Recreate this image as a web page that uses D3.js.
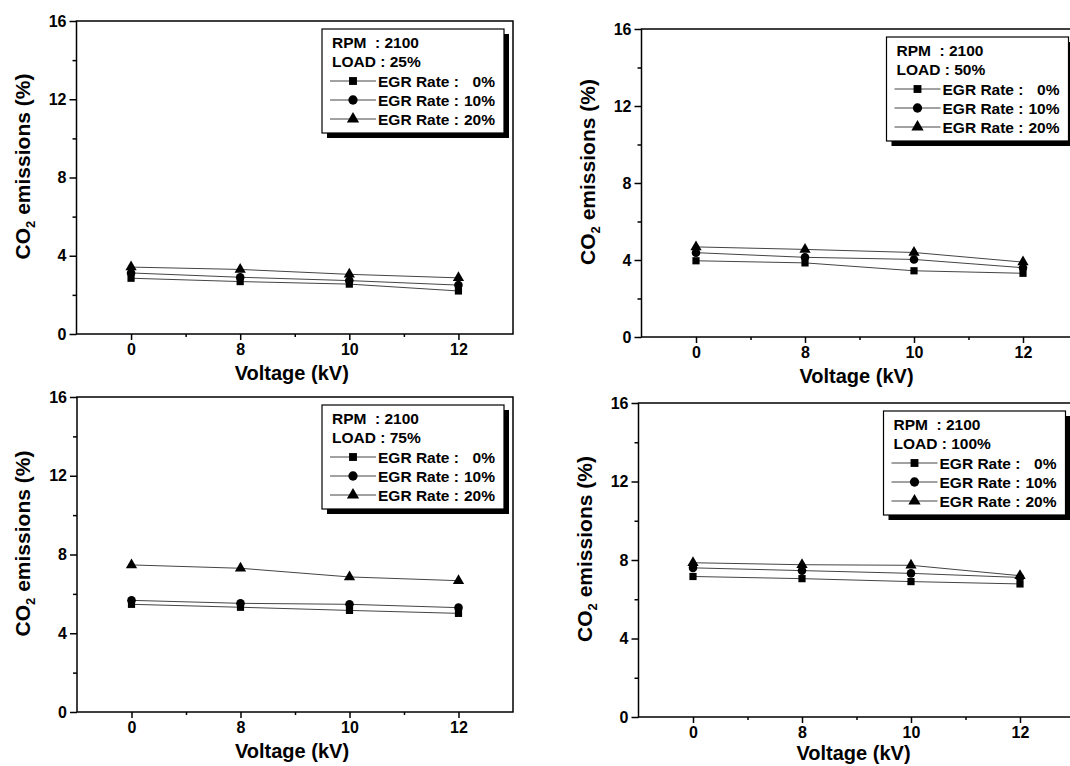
<!DOCTYPE html>
<html lang="en">
<head>
    <meta charset="UTF-8">
    <title>CO2 emissions vs voltage</title>
    <style>
        body {
          margin: 0;
          background: #fff;
        }
        svg text {
          font-family: "Liberation Sans", Arial, Helvetica, sans-serif;
          font-weight: bold;
          fill: #000;
        }
        .axis path, .axis line {
          stroke: #000;
          stroke-width: 1.5px;
        }
        .series {
          fill: none;
          stroke: #444;
          stroke-width: 1px;
        }
    </style>
</head>
<body>
    <script src="https://d3js.org/d3.v7.min.js"></script>
    <script>
        // data
        var voltages = ["0", "8", "10", "12"];
        var rpm = "2100";
        var loads = ["25%", "50%", "75%", "100%"];
        var egrRates = ["0%", "10%", "20%"];
        var yTicks = [0, 4, 8, 12, 16];

        // rows: EGR 0%, 10%, 20% ; columns: voltages
        var co2Load25 = [[2.85, 2.68, 2.55, 2.20], [3.12, 2.90, 2.73, 2.50], [3.42, 3.30, 3.05, 2.87]];
        var co2Load50 = [[3.96, 3.85, 3.44, 3.31], [4.38, 4.14, 4.03, 3.60], [4.68, 4.55, 4.39, 3.89]];
        var co2Load75 = [[5.47, 5.32, 5.16, 5.01], [5.67, 5.52, 5.47, 5.30], [7.47, 7.30, 6.86, 6.67]];
        var co2Load100 = [[7.16, 7.05, 6.90, 6.78], [7.60, 7.46, 7.32, 7.11], [7.86, 7.76, 7.73, 7.20]];

        var width = 1070,
            height = 766;

        // panel boxes on the page
        var panels = [
          {left: 76.5, right: 513, top: 21, bottom: 334, data: co2Load25, load: loads[0]},
          {left: 641.5, right: 1077.5, top: 29, bottom: 337, data: co2Load50, load: loads[1]},
          {left: 77, right: 513, top: 397, bottom: 712, data: co2Load75, load: loads[2]},
          {left: 638.5, right: 1074.5, top: 403, bottom: 717, data: co2Load100, load: loads[3]}
        ];

        var svg = d3.select("body").append("svg")
            .attr("width", width)
            .attr("height", height);

        svg.append("rect").attr("width", width).attr("height", height).attr("fill", "#fff");

        var symbols = [d3.symbolSquare, d3.symbolCircle, d3.symbolTriangle];
        var symbolSizes = [52, 58, 55];

        function styleTicks(a) {
          a.select(".domain").remove();
          a.selectAll("text").style("font-size", "16px").style("font-weight", "bold");
        }

        panels.forEach(function(p) {
          var x = d3.scaleLinear().domain([-0.5, 3.5]).range([p.left, p.right]);
          var y = d3.scaleLinear().domain([0, 16]).range([p.bottom, p.top]);
          var g = svg.append("g");

          // frame
          g.append("rect")
              .attr("x", p.left).attr("y", p.top)
              .attr("width", p.right - p.left).attr("height", p.bottom - p.top)
              .attr("fill", "none").attr("stroke", "#000").attr("stroke-width", 1.5);

          // x axis
          g.append("g").attr("class", "axis")
              .attr("transform", "translate(0," + p.bottom + ")")
              .call(d3.axisBottom(x).tickValues([0, 1, 2, 3]).tickSize(6).tickPadding(4)
                .tickFormat(function(d) { return voltages[d]; }))
              .call(styleTicks);
          g.append("g").attr("class", "axis")
              .attr("transform", "translate(0," + p.bottom + ")")
              .call(d3.axisBottom(x).tickValues([0.5, 1.5, 2.5]).tickSize(3).tickFormat(""))
              .call(styleTicks);

          // y axis
          g.append("g").attr("class", "axis")
              .attr("transform", "translate(" + p.left + ",0)")
              .call(d3.axisLeft(y).tickValues(yTicks).tickSize(7).tickPadding(3))
              .call(styleTicks);
          g.append("g").attr("class", "axis")
              .attr("transform", "translate(" + p.left + ",0)")
              .call(d3.axisLeft(y).tickValues([2, 6, 10, 14]).tickSize(4).tickFormat(""))
              .call(styleTicks);

          // axis titles
          g.append("text")
              .attr("x", (p.left + p.right) / 2 - 3)
              .attr("y", Math.min(p.bottom + 46, height - 6))
              .attr("text-anchor", "middle")
              .style("font-size", "20px")
              .text("Voltage (kV)");

          var yt = g.append("text")
              .attr("transform", "translate(" + (p.left - 47) + "," + ((p.top + p.bottom) / 2 - 11) + ")rotate(-90)")
              .attr("text-anchor", "middle")
              .style("font-size", "21px");
          yt.append("tspan").text("CO");
          yt.append("tspan").attr("dy", 5).style("font-size", "13px").text("2");
          yt.append("tspan").attr("dy", -5).text(" emissions (%)");

          // series
          var line = d3.line()
              .x(function(d, i) { return x(i); })
              .y(function(d) { return y(d); });

          p.data.forEach(function(vals) {
            g.append("path").attr("class", "series").attr("d", line(vals));
          });
          p.data.forEach(function(vals, k) {
            g.selectAll(null)
                .data(vals)
              .enter().append("path")
                .attr("transform", function(d, i) { return "translate(" + x(i) + "," + y(d) + ")"; })
                .attr("d", d3.symbol().type(symbols[k]).size(symbolSizes[k]))
                .attr("fill", "#000");
          });

          // legend
          var lx = p.right - 191, ly = p.top + 8, lw = 182, lh = 104;
          var lg = g.append("g").attr("transform", "translate(" + lx + "," + ly + ")");
          lg.append("rect").attr("x", 5).attr("y", 5).attr("width", lw).attr("height", lh).attr("fill", "#000");
          lg.append("rect").attr("width", lw).attr("height", lh)
              .attr("fill", "#fff").attr("stroke", "#000").attr("stroke-width", 1.2);

          lg.append("text").attr("x", 10).attr("y", 19).style("font-size", "15.5px").text("RPM");
          lg.append("text").attr("x", 53).attr("y", 19).style("font-size", "15.5px").text(": " + rpm);
          lg.append("text").attr("x", 10).attr("y", 38).style("font-size", "15.5px").text("LOAD : " + p.load);

          egrRates.forEach(function(r, k) {
            var ry = 52 + k * 19;
            lg.append("line").attr("x1", 8).attr("x2", 54).attr("y1", ry).attr("y2", ry)
                .attr("stroke", "#444").attr("stroke-width", 1);
            lg.append("path").attr("transform", "translate(31," + ry + ")")
                .attr("d", d3.symbol().type(symbols[k]).size(symbolSizes[k] + 10)).attr("fill", "#000");
            lg.append("text").attr("x", 56).attr("y", ry + 6).style("font-size", "15.5px").text("EGR Rate :");
            lg.append("text").attr("x", 173).attr("y", ry + 6).attr("text-anchor", "end")
                .style("font-size", "15.5px").text(r);
          });
        });
    </script>
</body>
</html>
